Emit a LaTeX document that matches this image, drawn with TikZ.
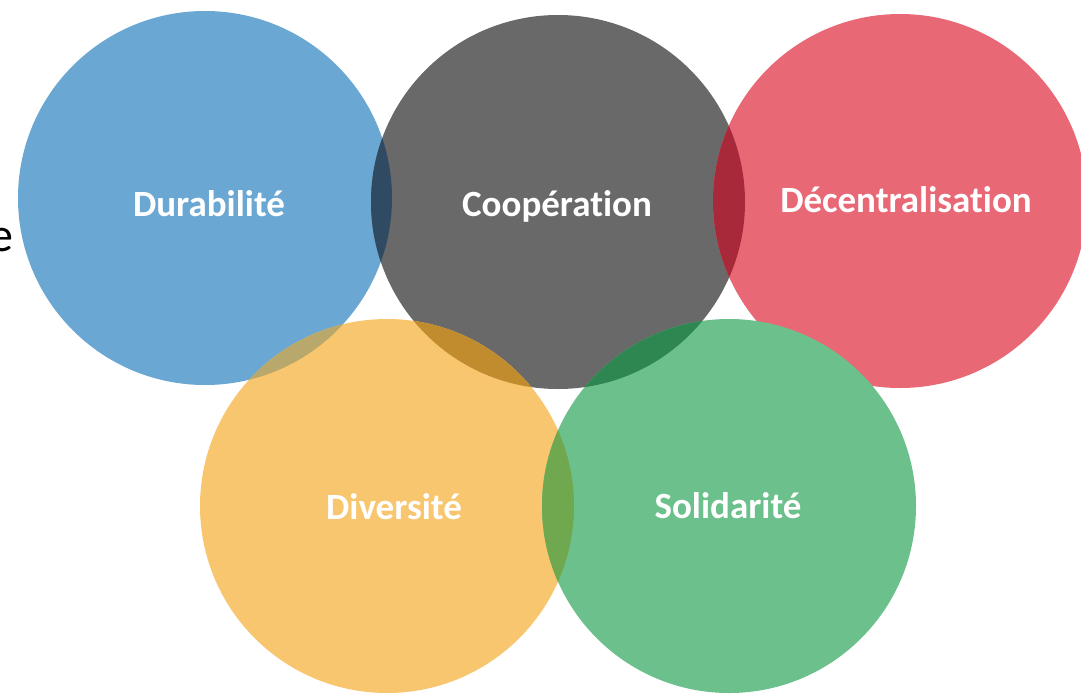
\documentclass[tikz,border=0pt]{standalone}
\usepackage{fontspec}
\setmainfont{Carlito}[Ligatures={NoCommon}]
\begin{document}
\begin{tikzpicture}[x=1pt,y=-1pt,
  lbl/.style={text=white,font=\fontsize{37}{44}\selectfont\bfseries,inner sep=0pt}]
\useasboundingbox (0,0) rectangle (1081,694);
\definecolor{cblue}{HTML}{6AA8D3}
\definecolor{cgray}{HTML}{696969}
\definecolor{cred}{HTML}{E86875}
\definecolor{cyel}{HTML}{F8C66E}
\definecolor{cgreen}{HTML}{6CC08C}
\definecolor{bg}{HTML}{2F4A62}
\definecolor{gr}{HTML}{A82A3A}
\definecolor{by}{HTML}{B9A86B}
\definecolor{yg}{HTML}{C08C2E}
\definecolor{gg}{HTML}{2E8650}
\definecolor{ygr}{HTML}{6FA84F}
\def\R{187}
\coordinate (B) at (205,198);
\coordinate (G) at (558,202);
\coordinate (Rd) at (900,201);
\coordinate (Y) at (387,506);
\coordinate (Gn) at (729,506);
\fill[cblue] (B) circle (\R);
\fill[cgray] (G) circle (\R);
\fill[cred] (Rd) circle (\R);
\fill[cyel] (Y) circle (\R);
\fill[cgreen] (Gn) circle (\R);
\begin{scope}\clip (B) circle (\R); \fill[bg] (G) circle (\R); \fill[by] (Y) circle (\R);\end{scope}
\begin{scope}\clip (G) circle (\R); \fill[gr] (Rd) circle (\R); \fill[yg] (Y) circle (\R); \fill[gg] (Gn) circle (\R);\end{scope}
\begin{scope}\clip (Y) circle (\R); \fill[ygr] (Gn) circle (\R);\end{scope}
\node[lbl] (t1) at (209,204) {Durabilité};
\node[lbl] (t2) at (557,206) {Coopération};
\node[lbl] (t3) at (906,200) {Décentralisation};
\node[lbl] (t4) at (394,507) {Diversité};
\node[lbl] (t5) at (728,506) {Solidarité};
\node[anchor=base east,inner sep=0pt,font=\fontsize{48}{54}\selectfont] (e) at (14,251) {e};
\end{tikzpicture}
\end{document}
